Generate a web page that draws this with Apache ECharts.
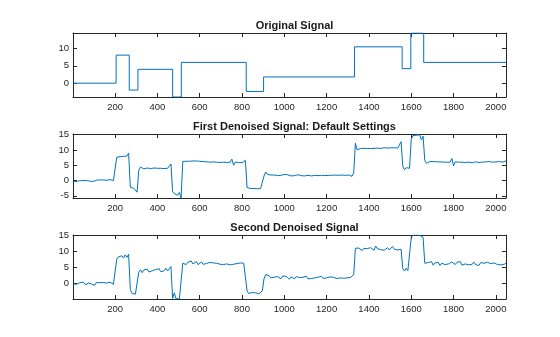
<!DOCTYPE html>
<html>
<head>
<meta charset="utf-8">
<script src="https://cdn.jsdelivr.net/npm/echarts@6/dist/echarts.min.js"></script>
<style>
html,body{margin:0;padding:0;background:#fff;}
#c{width:560px;height:337px;}
</style>
</head>
<body>
<div id="c"></div>
<script>
// ---- data ----
const titles = ['Original Signal', 'First Denoised Signal: Default Settings', 'Second Denoised Signal'];
const xTicks = [200, 400, 600, 800, 1000, 1200, 1400, 1600, 1800, 2000];
const yTicks1 = [0, 5, 10];
const yTicks2 = [-5, 0, 5, 10, 15];
const yTicks3 = [0, 5, 10, 15];
const yRange1 = [-4, 14.5];
const yRange2 = [-5.7, 15.2];
const yRange3 = [-4.7, 15];

// original block signal: change points and levels
const origEdges = [1, 205, 267, 308, 472, 513, 820, 902, 1332, 1557, 1598, 1659, 2048];
const origLevels = [0, 8.1, -2, 4, -4, 6, -2.4, 1.8, 10.5, 4.2, 14.5, 6];

// denoised signals, one value per 8 samples (sample 0, 8, 16, ... 2048)
const sampleStep = 8;
const denoised1 = [
  -0.4,-0.3,-0.3,-0.2,-0.1,-0.1,0.0,0.1,0.0,-0.1,-0.2,-0.2,-0.3,-0.4,0.1,0.1,0.2,0.3,0.2,0.2,0.1,0.2,0.3,0.2,0.0,-0.6,
  7.6,7.9,7.8,8.0,7.9,8.2,8.0,9.0,
  -2.2,-2.8,-2.5,-2.7,-3.8,
  3.4,4.4,4.0,3.8,4.0,4.1,4.0,3.9,4.0,4.1,4.0,4.0,3.9,4.0,4.1,3.9,3.8,4.0,3.7,5.4,
  -3.6,-4.3,-4.0,-4.8,-3.9,-5.7,
  6.2,6.6,6.3,6.2,6.3,6.4,6.4,6.5,6.4,6.3,6.3,6.2,6.2,6.1,6.1,6.0,6.0,6.0,6.1,6.0,
  6.0,5.9,5.9,6.0,6.0,5.9,5.9,5.9,6.0,7.0,5.0,6.0,6.1,5.9,6.0,5.8,6.0,6.6,
  -2.3,-2.9,-2.6,-2.8,-2.6,-2.9,-2.7,-2.8,-2.6,-2.4,
  1.5,2.8,2.0,
  1.7,1.8,1.9,1.8,1.7,1.6,1.5,1.7,1.9,2.0,
  2.1,1.9,1.7,1.5,1.4,1.6,1.8,1.9,1.8,1.6,
  1.5,1.5,1.6,1.7,1.6,1.5,1.6,1.7,1.7,1.6,
  1.6,1.7,1.7,1.6,1.7,1.7,1.8,1.7,1.7,1.8,
  1.8,1.7,1.8,1.8,1.8,1.7,1.8,1.8,1.7,1.4,
  2.5,
  12.2,10.0,10.4,10.5,10.4,10.5,10.6,10.5,10.5,10.4,10.4,10.5,10.6,10.6,10.5,10.5,10.6,10.7,10.7,10.6,
  10.6,10.7,10.8,10.7,10.9,10.6,11.0,12.7,
  4.7,3.5,4.2,3.7,4.0,
  13.5,14.7,15.0,14.8,15.2,14.9,13.3,14.5,
  6.6,5.6,6.2,
  6.2,6.1,6.2,6.1,6.1,6.0,6.1,6.0,6.0,6.1,6.0,6.0,6.0,7.2,4.8,6.1,6.0,6.0,5.9,6.0,
  5.9,5.9,6.0,6.0,5.9,5.8,5.9,6.1,6.0,5.9,5.9,6.0,5.9,6.1,6.0,6.2,6.1,6.0,6.2,6.1,
  5.9,6.2,6.1,6.0,6.2,6.4
];
const denoised2 = [
  0.0,0.5,-0.2,0.4,0.3,-0.3,0.5,0.0,-0.4,0.3,0.5,-0.1,0.2,-0.5,0.4,0.1,0.3,-0.2,0.4,0.6,0.2,0.0,0.5,0.3,-0.2,-0.4,
  7.6,8.3,7.8,8.6,7.9,8.9,8.1,9.1,
  -1.8,-3.0,-2.4,-3.2,-2.8,
  3.6,4.3,3.4,4.2,3.8,4.5,3.6,4.2,4.0,3.5,4.4,3.9,4.6,3.7,4.3,4.0,4.8,3.9,4.6,5.3,
  -4.5,-2.8,-4.6,-4.0,-4.7,-4.6,
  6.3,6.9,5.9,6.6,6.2,7.0,6.1,6.5,6.8,5.9,6.4,6.7,6.0,6.5,6.2,5.8,6.6,6.1,6.4,5.9,
  6.3,6.7,6.0,6.2,5.9,6.5,6.1,6.4,5.8,6.3,6.0,6.6,6.2,5.9,6.4,6.1,6.3,5.9,
  -2.2,-3.0,-2.5,-2.7,-2.3,-2.8,-2.5,-3.1,-2.6,-2.2,
  1.5,2.8,2.2,2.5,1.8,2.3,2.0,1.6,2.2,1.8,
  1.5,2.4,1.9,2.3,1.7,1.4,2.1,2.0,1.5,2.2,
  1.6,1.9,1.3,2.0,1.7,2.3,1.5,1.9,1.6,2.2,
  1.8,1.4,2.0,1.7,2.3,1.6,2.0,1.8,1.5,2.1,
  1.7,2.0,1.9,1.6,2.2,1.8,1.9,1.7,2.1,1.8,
  2.0,1.9,2.2,2.8,
  10.9,10.3,11.0,10.6,10.2,10.9,10.5,10.8,10.4,11.1,10.6,10.3,11.6,10.8,11.2,10.5,10.9,10.3,10.7,11.1,
  10.4,10.8,11.5,10.6,10.9,10.4,10.8,10.6,
  4.6,3.9,4.8,4.0,4.4,
  14.2,14.9,14.6,15.0,14.4,14.9,14.7,14.3,
  6.3,5.8,6.5,6.1,6.8,5.7,6.4,6.0,6.6,5.6,6.3,6.9,5.9,6.5,6.1,5.5,6.7,6.2,5.9,6.6,
  6.0,6.8,5.7,6.3,6.1,6.6,5.8,6.4,6.0,6.7,5.9,6.2,5.6,6.5,6.1,6.3,5.8,6.6,6.0,6.2,
  5.7,6.4,6.1,5.9,6.5,5.8,6.3,6.0,6.4
];

// ---- build ----
const axisColor = '#262626';
const lineColor = '#0072BD';
const font = '"Liberation Sans", Arial, Helvetica, sans-serif';
const plainNum = v => String(v);

const origPts = [];
for (let i = 0; i < origLevels.length; i++) {
  origPts.push([origEdges[i], origLevels[i]]);
  origPts.push([origEdges[i + 1], origLevels[i]]);
}
const toPts = arr => arr.map((v, i) => [i * sampleStep, v]);

const gridTops = [33, 134, 235];
const gridH = 64;
const yTicksAll = [yTicks1, yTicks2, yTicks3];
const yRanges = [yRange1, yRange2, yRange3];
const seriesData = [origPts, toPts(denoised1), toPts(denoised2)];

const grids = [], xAxes = [], yAxes = [], series = [], titleOpts = [];
for (let g = 0; g < 3; g++) {
  grids.push({left: 73, width: 433, top: gridTops[g], height: gridH, containLabel: false});
  const lineStyle = {color: axisColor, width: 1};
  const xb = {
    gridIndex: g, type: 'value', min: 1, max: 2048,
    axisLine: {show: true, onZero: false, lineStyle},
    axisTick: {show: true, inside: true, length: 4, customValues: xTicks, lineStyle},
    splitLine: {show: false}
  };
  xAxes.push(Object.assign({}, xb, {position: 'bottom',
    axisLabel: {show: true, customValues: xTicks, formatter: plainNum, color: axisColor, fontSize: 9.5, fontFamily: font, margin: 5}}));
  xAxes.push(Object.assign({}, xb, {position: 'top', axisLabel: {show: false}}));
  const yt = yTicksAll[g];
  const yb = {
    gridIndex: g, type: 'value', min: yRanges[g][0], max: yRanges[g][1],
    axisLine: {show: true, onZero: false, lineStyle},
    axisTick: {show: true, inside: true, length: 4, customValues: yt, lineStyle},
    splitLine: {show: false}
  };
  yAxes.push(Object.assign({}, yb, {position: 'left',
    axisLabel: {show: true, customValues: yt, formatter: plainNum, color: axisColor, fontSize: 9.5, fontFamily: font, margin: 4}}));
  yAxes.push(Object.assign({}, yb, {position: 'right', axisLabel: {show: false}}));
  series.push({
    type: 'line', xAxisIndex: g * 2, yAxisIndex: g * 2, data: seriesData[g],
    showSymbol: false, symbol: 'none', clip: true, animation: false,
    lineStyle: {color: lineColor, width: 1}
  });
  titleOpts.push({
    text: titles[g], left: 289.5, textAlign: 'center', top: gridTops[g] - 18,
    textStyle: {fontSize: 11, fontWeight: 'bold', color: '#1a1a1a', fontFamily: font}
  });
}

const chart = echarts.init(document.getElementById('c'), null, {renderer: 'canvas'});
chart.setOption({
  backgroundColor: '#fff',
  animation: false,
  title: titleOpts,
  grid: grids,
  xAxis: xAxes,
  yAxis: yAxes,
  series: series
});
</script>
</body>
</html>
